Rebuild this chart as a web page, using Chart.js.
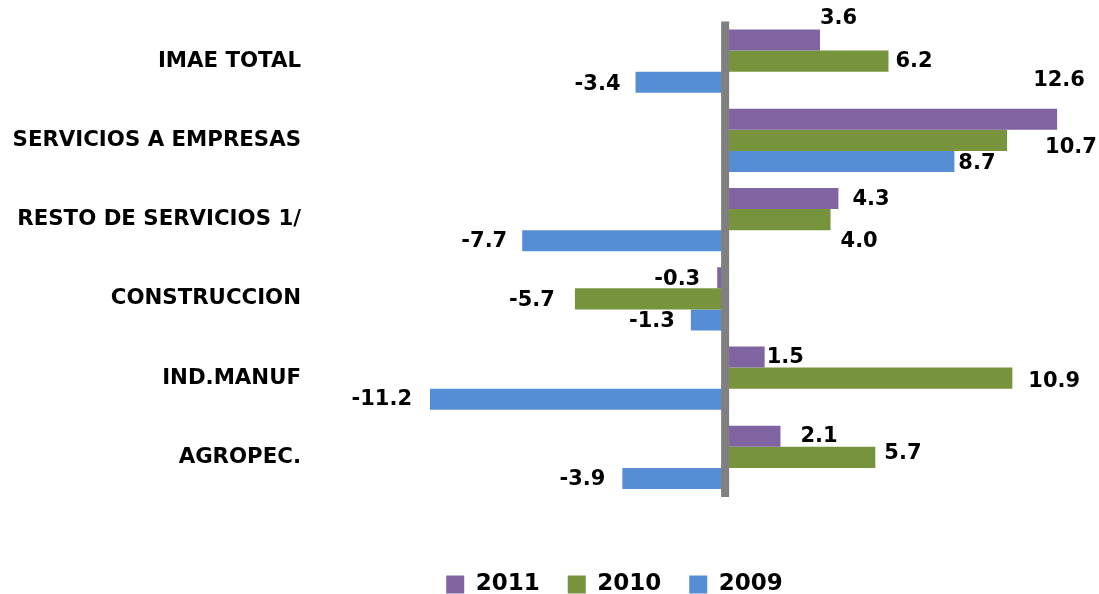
<!DOCTYPE html>
<html>
<head>
<meta charset="utf-8">
<script src="https://cdn.jsdelivr.net/npm/chart.js@4.4.1/dist/chart.umd.min.js"></script>
<style>
  html, body { margin: 0; padding: 0; background: #fff; }
</style>
</head>
<body>
<canvas id="chart" width="1099" height="594"></canvas>
<script>
const categorias = ['IMAE TOTAL', 'SERVICIOS A EMPRESAS', 'RESTO DE SERVICIOS 1/', 'CONSTRUCCION', 'IND.MANUF', 'AGROPEC.'];
const anios = ['2011', '2010', '2009'];
const valores2011 = [3.6, 12.6, 4.3, -0.3, 1.5, 2.1];
const valores2010 = [6.2, 10.7, 4.0, -5.7, 10.9, 5.7];
const valores2009 = [-3.4, 8.7, -7.7, -1.3, -11.2, -3.9];

const colores = ['#8064A2', '#77933C', '#558ED5'];

// desplazamiento [dx, dy] de cada etiqueta respecto al extremo de su barra
const ajusteEtiquetas = [
  [[0, -21], [-24, -39], [14, 1], [17, 2], [2, 1], [20, 0]],
  [[7, 0], [38, 7], [10, 22], [20, 2], [16, 3], [9, -4]],
  [[15, 2], [4, 2], [15, 1], [16, 2], [18, 0], [17, 1]]
];

const etiquetasPlugin = {
  id: 'etiquetas',
  afterLayout(chart) {
    // la leyenda va algo a la derecha del centro
    chart.legend.left += 80;
    chart.legend.right += 80;
  },
  afterDatasetsDraw(chart) {
    const ctx = chart.ctx;
    ctx.save();
    ctx.font = 'bold 21px "DejaVu Sans"';
    ctx.fillStyle = '#000';
    ctx.textBaseline = 'middle';
    chart.data.datasets.forEach((ds, i) => {
      chart.getDatasetMeta(i).data.forEach((bar, j) => {
        const v = ds.data[j];
        const [dx, dy] = ajusteEtiquetas[i][j];
        ctx.textAlign = v < 0 ? 'right' : 'left';
        const x = v < 0 ? bar.x - dx : bar.x + dx;
        ctx.fillText(v.toFixed(1), x, bar.y + dy);
      });
    });
    // linea gris del cero
    const x0 = chart.scales.x.getPixelForValue(0);
    ctx.strokeStyle = '#808080';
    ctx.lineWidth = 8;
    ctx.beginPath();
    ctx.moveTo(x0, chart.chartArea.top);
    ctx.lineTo(x0, chart.chartArea.bottom);
    ctx.stroke();
    ctx.restore();
  }
};

new Chart(document.getElementById('chart'), {
  type: 'bar',
  data: {
    labels: categorias,
    datasets: [
      { label: anios[0], data: valores2011, backgroundColor: colores[0] },
      { label: anios[1], data: valores2010, backgroundColor: colores[1] },
      { label: anios[2], data: valores2009, backgroundColor: colores[2] }
    ]
  },
  plugins: [etiquetasPlugin],
  options: {
    indexAxis: 'y',
    responsive: false,
    animation: false,
    categoryPercentage: 0.8,
    barPercentage: 1,
    borderWidth: 0,
    layout: {
      padding: { top: 21.5, left: 0, right: 30, bottom: -12 }
    },
    scales: {
      x: {
        min: -15.45,
        max: 13.05,
        ticks: { display: false },
        grid: { display: false },
        border: { display: false },
        afterFit: (s) => { s.height = 48; }
      },
      y: {
        ticks: {
          color: '#000',
          padding: 9,
          font: { family: 'DejaVu Sans', weight: 'bold', size: 21.3, lineHeight: 1 }
        },
        grid: { display: false },
        border: { display: false },
        afterFit: (s) => { s.width = 318; }
      }
    },
    plugins: {
      tooltip: { enabled: false },
      legend: {
        position: 'bottom',
        labels: {
          color: '#000',
          boxWidth: 18,
          boxHeight: 18,
          padding: 28,
          font: { family: 'DejaVu Sans', weight: 'bold', size: 23 }
        }
      }
    }
  }
});
</script>
</body>
</html>
